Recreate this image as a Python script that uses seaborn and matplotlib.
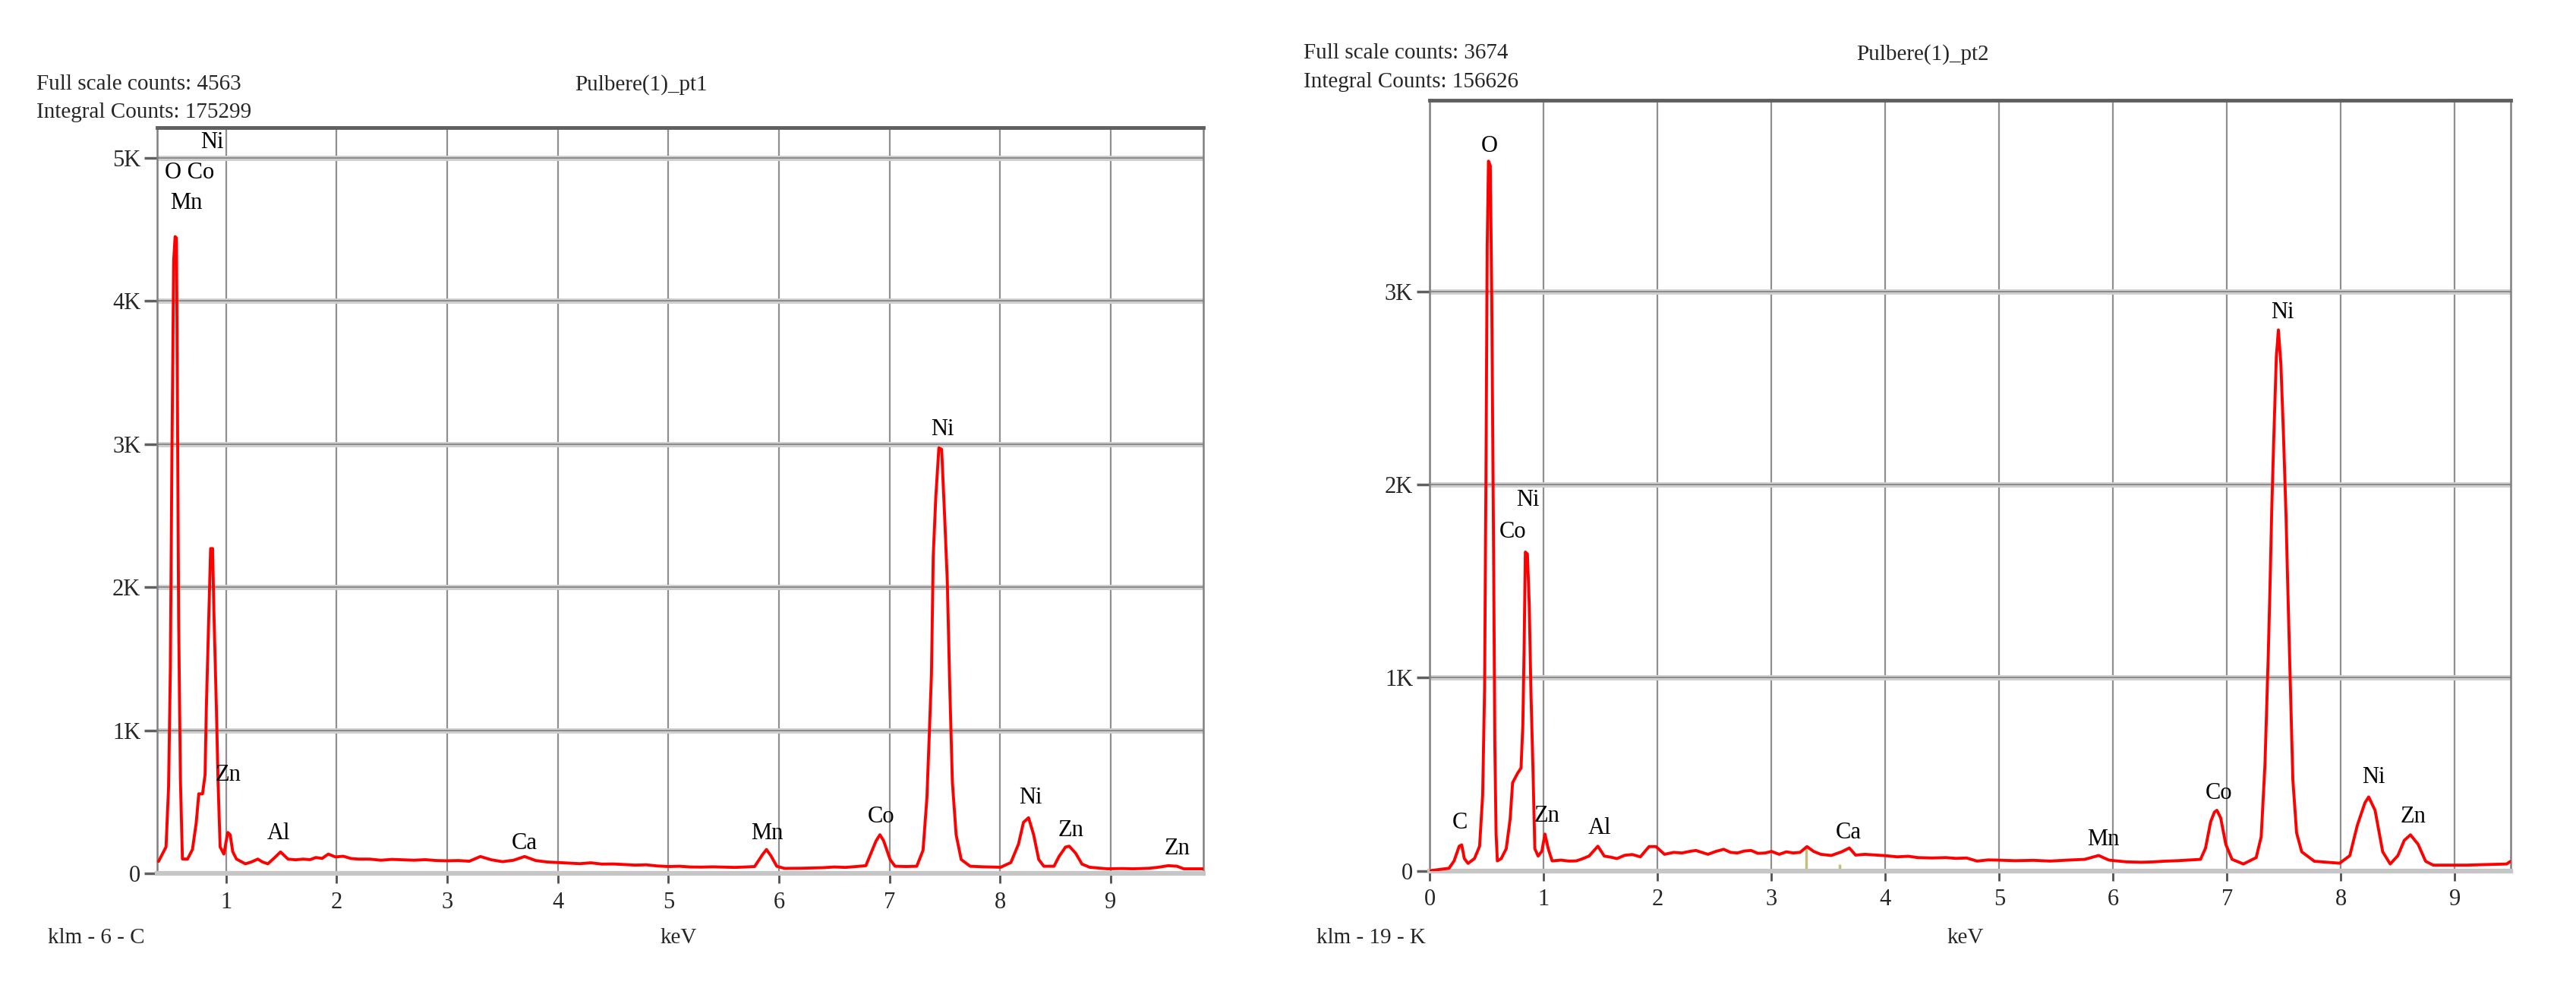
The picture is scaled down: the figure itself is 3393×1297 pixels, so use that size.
import numpy as np
import pandas as pd
import matplotlib
matplotlib.use("Agg")
import matplotlib.pyplot as plt
from matplotlib.ticker import FuncFormatter
import seaborn as sns

# ---- spectrum pt1 (keV, counts) ----
left_kev = [0.39, 0.458, 0.481, 0.497, 0.511, 0.527, 0.540, 0.552, 0.561, 0.572, 0.588, 0.606,
            0.652, 0.697, 0.731, 0.754, 0.788, 0.811, 0.822, 0.845, 0.861, 0.879, 0.890, 0.913,
            0.929, 0.947, 0.981, 1.016, 1.038, 1.061, 1.095, 1.175, 1.230, 1.288, 1.330, 1.379,
            1.440, 1.493, 1.561, 1.630, 1.698, 1.760, 1.812, 1.870, 1.925, 1.990, 2.061, 2.130,
            2.198, 2.3, 2.4, 2.5, 2.6, 2.7, 2.8, 2.9, 3.0, 3.1, 3.2, 3.3, 3.4, 3.5, 3.6, 3.7,
            3.8, 3.9, 4.0, 4.1, 4.2, 4.3, 4.4, 4.5, 4.6, 4.7, 4.8, 4.9, 5.0, 5.1, 5.2, 5.3, 5.4,
            5.5, 5.6, 5.7, 5.78, 5.85, 5.887, 5.93, 5.98, 6.05, 6.2, 6.3, 6.4, 6.5, 6.6, 6.7,
            6.786, 6.82, 6.878, 6.913, 6.947, 7.005, 7.05, 7.15, 7.246, 7.303, 7.338, 7.361,
            7.379, 7.395, 7.418, 7.446, 7.471, 7.499, 7.522, 7.545, 7.568, 7.602, 7.648, 7.729,
            7.85, 8.005, 8.097, 8.166, 8.211, 8.257, 8.303, 8.349, 8.395, 8.487, 8.533, 8.591,
            8.625, 8.683, 8.74, 8.809, 8.97, 9.1, 9.2, 9.35, 9.43, 9.52, 9.6, 9.66, 9.84]
left_counts = [84, 185, 606, 1430, 2910, 4280, 4450, 4440, 3316, 1768, 657, 101,
               100, 168, 354, 556, 556, 690, 1145, 1818, 2270, 2270, 1852, 1162,
               623, 185, 135, 286, 270, 152, 100, 67, 80, 100, 80, 67,
               110, 150, 100, 95, 100, 96, 111, 105, 135, 115, 120, 104,
               100, 100, 92, 98, 95, 92, 96, 90, 88, 90, 85, 118, 95, 82, 92, 118,
               90, 80, 76, 72, 68, 74, 65, 66, 62, 58, 60, 52, 48, 50, 45, 44, 46,
               44, 42, 45, 48, 130, 167, 120, 50, 35, 36, 38, 40, 45, 42, 48,
               54, 119, 227, 270, 227, 97, 50, 48, 50, 162, 530, 1006,
               1395, 2217, 2628, 2974, 2963, 2477, 2044, 1287, 638, 270, 97, 50,
               46, 43, 76, 205, 357, 389, 270, 97, 50, 50, 119, 184,
               190, 141, 65, 43, 32, 34, 32, 36, 43, 54, 50, 32, 32]

# ---- spectrum pt2 ----
right_kev = [0.0, 0.168, 0.212, 0.257, 0.279, 0.302, 0.335, 0.391, 0.436, 0.463, 0.48, 0.492,
             0.503, 0.514, 0.53, 0.543, 0.559, 0.57, 0.581, 0.592, 0.626, 0.67, 0.704, 0.726,
             0.771, 0.8, 0.816, 0.827, 0.838, 0.856, 0.872, 0.887, 0.905, 0.921, 0.95, 0.983,
             1.01, 1.039, 1.073, 1.15, 1.22, 1.285, 1.34, 1.397, 1.475, 1.531, 1.59, 1.642,
             1.71, 1.777, 1.848, 1.924, 1.985, 2.06, 2.14, 2.213, 2.28, 2.335, 2.442, 2.51,
             2.58, 2.64, 2.70, 2.76, 2.82, 2.88, 2.945, 3.0, 3.067, 3.13, 3.19, 3.25, 3.311,
             3.37, 3.433, 3.524, 3.616, 3.683, 3.738, 3.82, 3.92, 4.0, 4.104, 4.2, 4.287,
             4.408, 4.53, 4.62, 4.713, 4.805, 4.9, 4.988, 5.14, 5.3, 5.445, 5.6, 5.75, 5.872,
             5.963, 6.116, 6.25, 6.36, 6.433, 6.567, 6.767, 6.811, 6.856, 6.889, 6.911, 6.944,
             6.989, 7.044, 7.144, 7.256, 7.3, 7.333, 7.362, 7.378, 7.393, 7.411, 7.433, 7.451,
             7.473, 7.496, 7.518, 7.533, 7.556, 7.578, 7.611, 7.656, 7.767, 7.989, 8.078,
             8.144, 8.211, 8.244, 8.3, 8.367, 8.433, 8.5, 8.556, 8.611, 8.678, 8.744, 8.811,
             9.1, 9.456, 9.49]
right_counts = [0, 13, 51, 127, 134, 63, 38, 63, 127, 392, 949, 2051,
                3241, 3674, 3650, 2949, 1646, 646, 190, 51, 63, 114, 266, 456,
                506, 532, 759, 1152, 1650, 1640, 1380, 924, 519, 114, 76, 101,
                190, 114, 51, 55, 50, 51, 62, 76, 127, 76, 70, 63,
                80, 84, 72, 125, 125, 85, 95, 92, 100, 105, 85, 100,
                111, 95, 92, 102, 105, 90, 92, 100, 85, 98, 92, 95, 125,
                100, 85, 79, 98, 118, 81, 85, 81, 78, 72, 75, 68,
                66, 68, 64, 66, 50, 56, 55, 52, 54, 50, 55, 59, 79,
                55, 46, 44, 46, 49, 52, 59, 117, 254, 303, 313, 274,
                137, 59, 35, 68, 176, 548, 1115, 1487, 1879, 2250, 2661, 2800,
                2622, 2250, 1840, 1477, 959, 470, 196, 98, 49, 39, 78,
                235, 352, 382, 313, 98, 35, 78, 157, 186, 137, 49, 29,
                29, 35, 49]

# KLM marker bars on pt2
right_marker_kev = [3.302, 3.594]
right_marker_counts = [125, 33]

# peak labels (text, keV, counts)
left_labels = [("Ni", 0.876, 5106), ("O Co", 0.673, 4894), ("Mn", 0.644, 4682),
               ("Zn", 1.02, 690), ("Al", 1.476, 281), ("Ca", 3.70, 210), ("Mn", 5.89, 280),
               ("Co", 6.924, 396), ("Ni", 7.476, 3104), ("Ni", 8.274, 530),
               ("Zn", 8.637, 302), ("Zn", 9.602, 173)]
right_labels = [("C", 0.26, 246), ("O", 0.52, 3750), ("Co", 0.727, 1752), ("Ni", 0.86, 1917),
                ("Zn", 1.027, 284), ("Al", 1.489, 220), ("Ca", 3.676, 196), ("Mn", 5.91, 163),
                ("Co", 6.93, 402), ("Ni", 7.49, 2892), ("Ni", 8.285, 484), ("Zn", 8.633, 279)]

left_xticks = [1, 2, 3, 4, 5, 6, 7, 8, 9]
right_xticks = [0, 1, 2, 3, 4, 5, 6, 7, 8, 9]
left_yticks = [0, 1000, 2000, 3000, 4000, 5000]
right_yticks = [0, 1000, 2000, 3000]

sns.set_style("white")
plt.rcParams['font.family'] = ['Liberation Serif', 'DejaVu Serif']

FS = 22
fig = plt.figure(figsize=(33.93, 12.97), dpi=100)


def kfmt(v, pos):
    return "0" if v == 0 else f"{int(round(v / 1000))}K"


def draw_panel(rect, kev, counts, xlim, ylim, xticks, yticks, labels):
    ax = fig.add_axes(rect)
    df = pd.DataFrame({"keV": kev, "counts": counts})
    ax.set_axisbelow(True)
    ax.xaxis.grid(True, color='#8f8f8f', lw=1.6)
    ax.yaxis.grid(True, color='#cfcfcf', lw=5)
    for v in yticks[1:]:
        ax.axhline(v, color='#858585', lw=1.3, zorder=0.6)
    sns.lineplot(data=df, x="keV", y="counts", color='#ff0000', lw=2.8,
                 estimator=None, sort=False, ax=ax, zorder=3)
    ax.set_xlim(*xlim)
    ax.set_ylim(*ylim)
    ax.set_xticks(xticks)
    ax.set_yticks(yticks)
    ax.yaxis.set_major_formatter(FuncFormatter(kfmt))
    ax.set_xlabel("")
    ax.set_ylabel("")
    ax.tick_params(axis='x', direction='out', length=9, width=2, color='#505050',
                   pad=8, labelsize=FS, bottom=True)
    ax.tick_params(axis='y', direction='out', length=12, width=2.5, color='#606060',
                   pad=4, labelsize=FS, left=True)
    for s in ax.spines.values():
        s.set_visible(True)
    ax.spines['top'].set_color('#5f5f5f')
    ax.spines['top'].set_linewidth(3.5)
    ax.spines['left'].set_color('#808080')
    ax.spines['left'].set_linewidth(1.8)
    ax.spines['right'].set_color('#808080')
    ax.spines['right'].set_linewidth(1.8)
    ax.spines['bottom'].set_color('#c6c6c6')
    ax.spines['bottom'].set_linewidth(4.5)
    for txt, x, y in labels:
        ax.text(x, y, txt, ha='center', va='center', fontsize=FS, color='black', zorder=4)
    return ax


ax1 = draw_panel([0.06115, 0.1133, 0.4061, 0.7569], left_kev, left_counts,
                 (0.381, 9.84), (0, 5210), left_xticks, left_yticks, left_labels)
ax2 = draw_panel([0.5551, 0.1160, 0.4195, 0.7824], right_kev, right_counts,
                 (0, 9.49), (0, 3990), right_xticks, right_yticks, right_labels)
ax2.vlines(right_marker_kev, 0, right_marker_counts, color='#c2c07a', lw=2.5, zorder=2.5)

# header / footer texts
fig.text(0.0141, 0.9146, "Full scale counts: 4563", fontsize=FS - 1, va='center', ha='left')
fig.text(0.0141, 0.8859, "Integral Counts: 175299", fontsize=FS - 1, va='center', ha='left')
fig.text(0.249, 0.9139, "Pulbere(1)_pt1", fontsize=FS - 1, va='center', ha='center')
fig.text(0.0185, 0.0478, "klm - 6 - C", fontsize=FS - 1, va='center', ha='left')
fig.text(0.2635, 0.0478, "keV", fontsize=FS - 1, va='center', ha='center')

fig.text(0.5059, 0.946, "Full scale counts: 3674", fontsize=FS - 1, va='center', ha='left')
fig.text(0.5059, 0.9165, "Integral Counts: 156626", fontsize=FS - 1, va='center', ha='left')
fig.text(0.7464, 0.9447, "Pulbere(1)_pt2", fontsize=FS - 1, va='center', ha='center')
fig.text(0.511, 0.0478, "klm - 19 - K", fontsize=FS - 1, va='center', ha='left')
fig.text(0.763, 0.0478, "keV", fontsize=FS - 1, va='center', ha='center')

fig.savefig("out.png", dpi=100, facecolor='white')
plt.close(fig)
